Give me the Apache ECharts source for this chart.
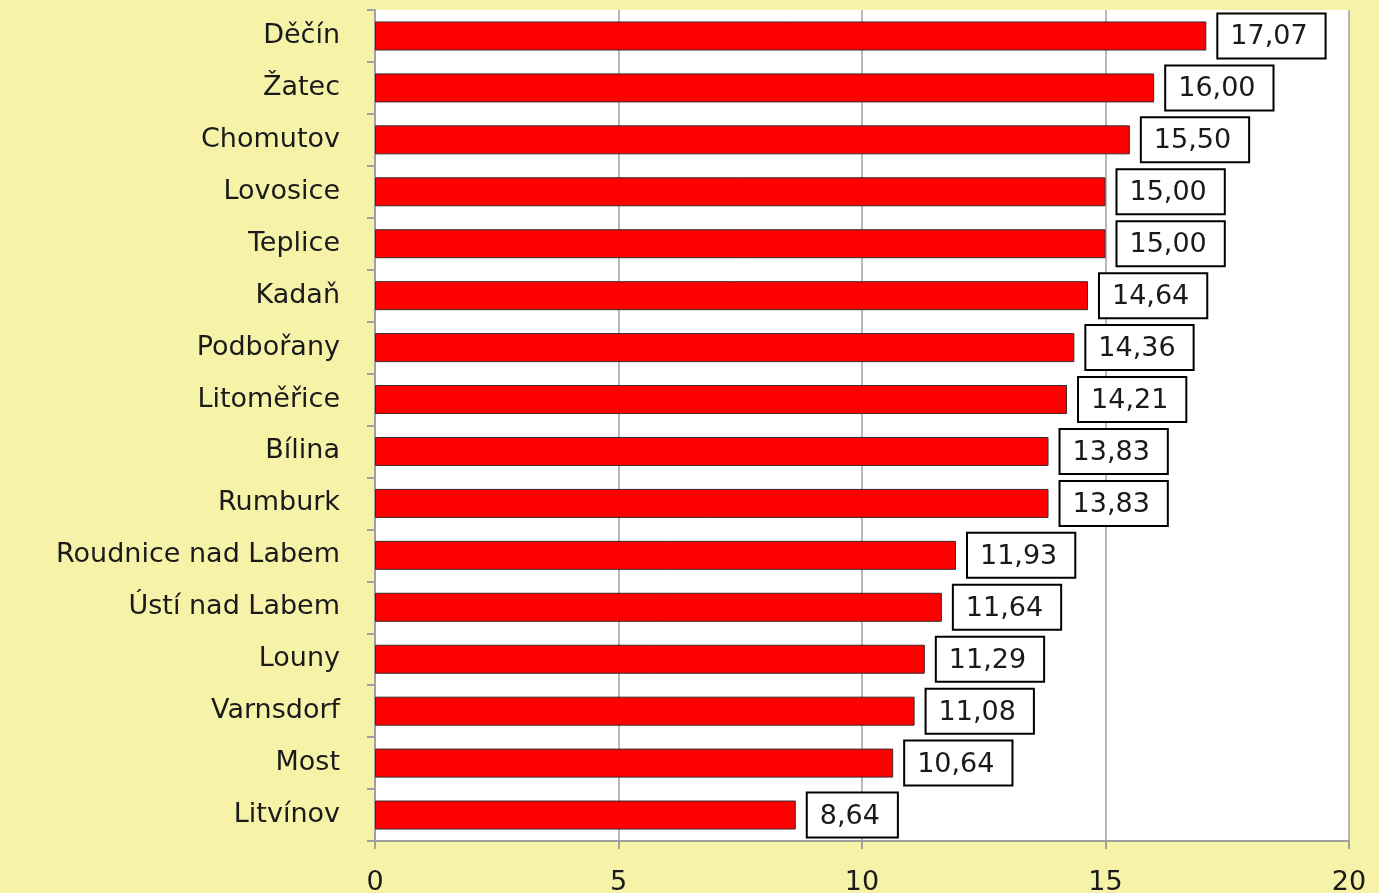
<!DOCTYPE html>
<html>
<head>
<meta charset="utf-8">
<script src="https://cdn.jsdelivr.net/npm/echarts@6/dist/echarts.min.js"></script>
<style>
  html, body { margin: 0; padding: 0; background: #f6f3a9; }
  #main { width: 1379px; height: 893px; }
</style>
</head>
<body>
<div id="main"></div>
<script>
// kategorie (shora dolu)
var cities = ["Děčín", "Žatec", "Chomutov", "Lovosice", "Teplice", "Kadaň", "Podbořany",
  "Litoměřice", "Bílina", "Rumburk", "Roudnice nad Labem", "Ústí nad Labem", "Louny",
  "Varnsdorf", "Most", "Litvínov"];
var values = [17.07, 16.00, 15.50, 15.00, 15.00, 14.64, 14.36, 14.21, 13.83, 13.83,
  11.93, 11.64, 11.29, 11.08, 10.64, 8.64];

var font = "'DejaVu Sans', Verdana, sans-serif";
var myChart = echarts.init(document.getElementById("main"));
myChart.setOption({
  backgroundColor: "#f6f3a9",
  textStyle: { fontFamily: font },
  grid: {
    left: 375, right: 30, top: 10, bottom: 52,
    outerBoundsMode: "none",
    show: true, backgroundColor: "#ffffff", borderWidth: 0
  },
  xAxis: {
    type: "value",
    min: 0, max: 20, interval: 5,
    axisLine: { show: true, lineStyle: { color: "#a0a0a0", width: 2 } },
    axisTick: { show: true, length: 8, lineStyle: { color: "#a0a0a0", width: 2 } },
    splitLine: { show: true, lineStyle: { color: "#a0a0a0", width: 1.5 } },
    axisLabel: { color: "#1a1a1a", fontSize: 27, margin: 28, fontFamily: font }
  },
  yAxis: {
    type: "category",
    inverse: true,
    data: cities,
    axisLine: { show: true, lineStyle: { color: "#a0a0a0", width: 2 } },
    axisTick: { show: true, length: 8, lineStyle: { color: "#a0a0a0", width: 2 } },
    axisLabel: { color: "#1a1a1a", fontSize: 27, margin: 35, fontFamily: font }
  },
  series: [
    {
      type: "bar",
      data: values,
      barWidth: 29,
      itemStyle: { color: "#ff0000", borderColor: "#3a2a2a", borderWidth: 1 },
      label: {
        show: true,
        position: "right",
        distance: 12,
        offset: [0, 0],
        backgroundColor: "#ffffff",
        borderColor: "#000000",
        borderWidth: 2,
        padding: [7, 17, 7, 12],
        formatter: function (p) { return "{v|" + p.value.toFixed(2).replace(".", ",") + "}"; },
        rich: {
          v: {
            color: "#1a1a1a",
            fontSize: 27,
            lineHeight: 29,
            fontFamily: font,
            padding: [3, 0, 0, 0]
          }
        }
      }
    }
  ]
});
</script>
</body>
</html>
